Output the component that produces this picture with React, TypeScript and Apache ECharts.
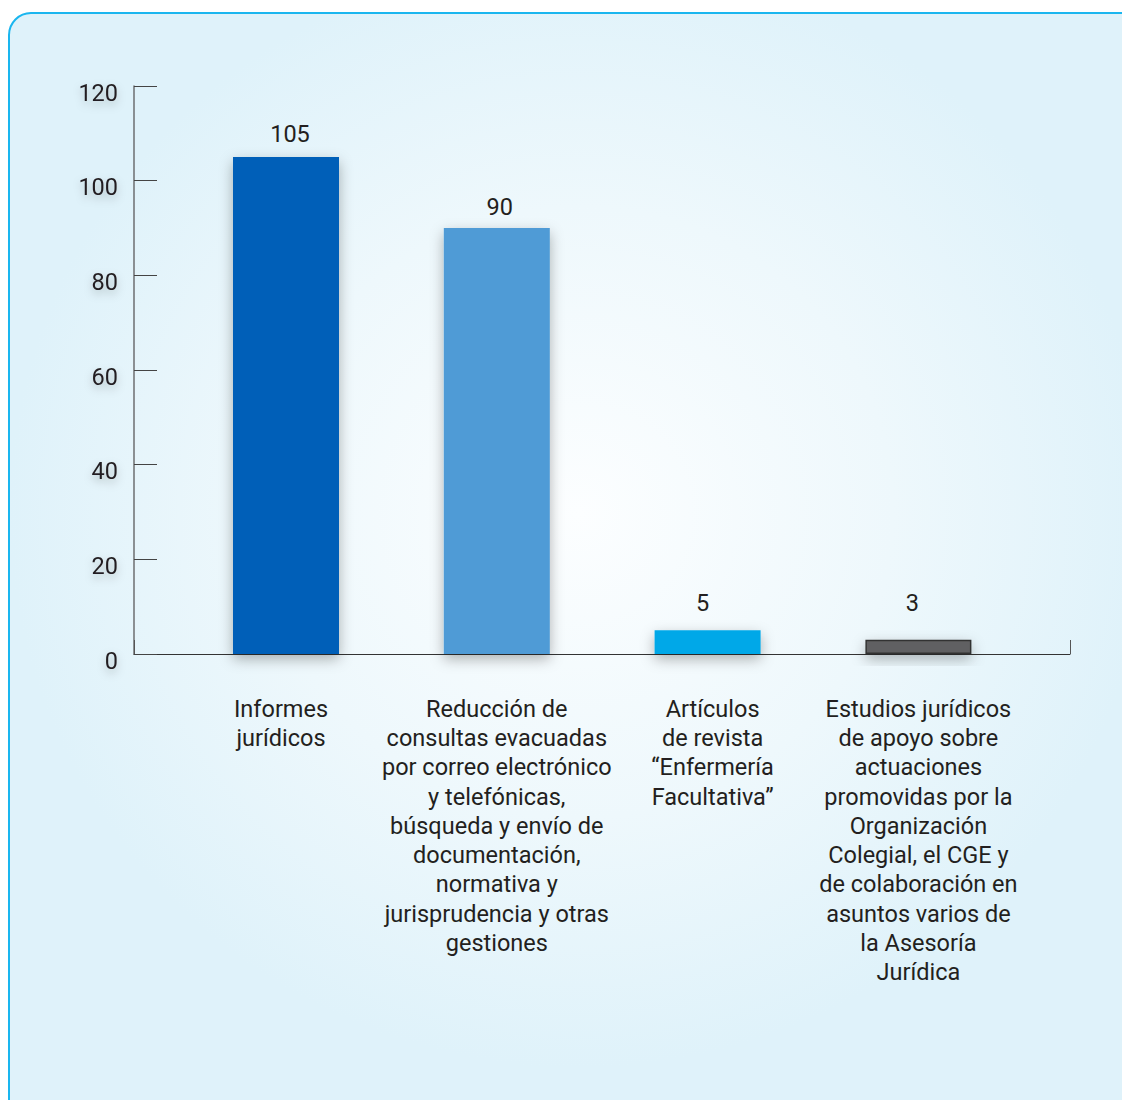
import React, { useEffect, useRef } from "react";
import * as echarts from "echarts";

const categories = [
  "Informes\njurídicos",
  "Reducción de\nconsultas evacuadas\npor correo electrónico\ny telefónicas,\nbúsqueda y envío de\ndocumentación,\nnormativa y\njurisprudencia y otras\ngestiones",
  "Artículos\nde revista\n“Enfermería\nFacultativa”",
  "Estudios jurídicos\nde apoyo sobre\nactuaciones\npromovidas por la\nOrganización\nColegial, el CGE y\nde colaboración en\nasuntos varios de\nla Asesoría\nJurídica",
];
const values = [105, 90, 5, 3];
const barColors = ["#005eb8", "#4f9bd6", "#00a8e8", "#606062"];
const yMin = 0;
const yMax = 120;
const yInterval = 20;

const FONT = "Roboto, 'Noto Sans', sans-serif";
const TEXT = "#231f20";
const labelDistances = [11, 9, 15, 25];
const labelOffsets = [
  [4, 0],
  [3, 0],
  [-5, 0],
  [-6, 0],
];
const catPadding = [
  [0, 10, 0, 0],
  [0, 0, 0, 0],
  [0, 0, 0, 10],
  [0, 0, 0, 0],
];

export default function App() {
  const ref = useRef<HTMLDivElement>(null);
  useEffect(() => {
    document.body.style.margin = "0";
    const chart = echarts.init(ref.current!, null, { renderer: "svg" });
    chart.setOption({
      animation: false,
      graphic: [
        {
          type: "rect",
          z: -10,
          silent: true,
          shape: { x: 9, y: 13, width: 1140, height: 1110, r: 22 },
          style: {
            fill: new echarts.graphic.RadialGradient(0.5, 0.45, 0.5, [
              { offset: 0, color: "#fcfeff" },
              { offset: 0.55, color: "#eef8fc" },
              { offset: 1, color: "#dff2fa" },
            ]),
            stroke: "#1ab6ef",
            lineWidth: 2,
          },
        },
      ],
      grid: [
        { left: 134, right: 52, top: 86, bottom: 446 },
        { left: 180.6, width: 843.2, top: 86, bottom: 446 },
      ],
      xAxis: [
        {
          type: "value",
          gridIndex: 0,
          min: 0,
          max: 1,
          interval: 1,
          axisLine: { show: true, lineStyle: { color: "#333", width: 1 } },
          axisTick: { show: true, inside: true, length: 14, lineStyle: { color: "#555" } },
          axisLabel: { show: false },
          splitLine: { show: false },
        },
        {
          type: "category",
          gridIndex: 1,
          data: categories.map((c, i) => ({
            value: c,
            textStyle: { padding: catPadding[i] },
          })),
          axisLine: { show: false },
          axisTick: { show: false },
          axisLabel: {
            interval: 0,
            margin: 40,
            fontFamily: FONT,
            fontSize: 23.5,
            lineHeight: 29.3,
            color: TEXT,
            align: "center",
          },
        },
      ],
      yAxis: [
        {
          type: "value",
          gridIndex: 0,
          min: yMin,
          max: yMax,
          interval: yInterval,
          axisLine: { show: true, lineStyle: { color: "#6d6e70", width: 1.5 } },
          axisTick: { show: true, inside: true, length: 23, lineStyle: { color: "#444" } },
          splitLine: { show: false },
          axisLabel: {
            margin: 16,
            fontFamily: FONT,
            fontSize: 23.5,
            color: TEXT,
            verticalAlign: "top",
            lineHeight: 13,
            textShadowColor: "rgba(0,0,0,0.25)",
            textShadowBlur: 8,
            textShadowOffsetY: 4,
          },
        },
        { type: "value", gridIndex: 1, min: yMin, max: yMax, show: false },
      ],
      series: [
        {
          type: "bar",
          xAxisIndex: 1,
          yAxisIndex: 1,
          barWidth: 106,
          data: values.map((v, i) => ({
            value: v,
            itemStyle: {
              color: barColors[i],
              borderColor: i === 3 ? "#333" : barColors[i],
              borderWidth: i === 3 ? 1.5 : 0,
            },
            label: { distance: labelDistances[i], offset: labelOffsets[i] },
          })),
          itemStyle: {
            shadowColor: "rgba(0,0,0,0.3)",
            shadowBlur: 14,
            shadowOffsetY: 5,
          },
          label: {
            show: true,
            position: "top",
            fontFamily: FONT,
            fontSize: 23.5,
            color: TEXT,
          },
        },
      ],
    });
    return () => chart.dispose();
  }, []);
  return <div ref={ref} style={{ width: 1122, height: 1100 }} />;
}
